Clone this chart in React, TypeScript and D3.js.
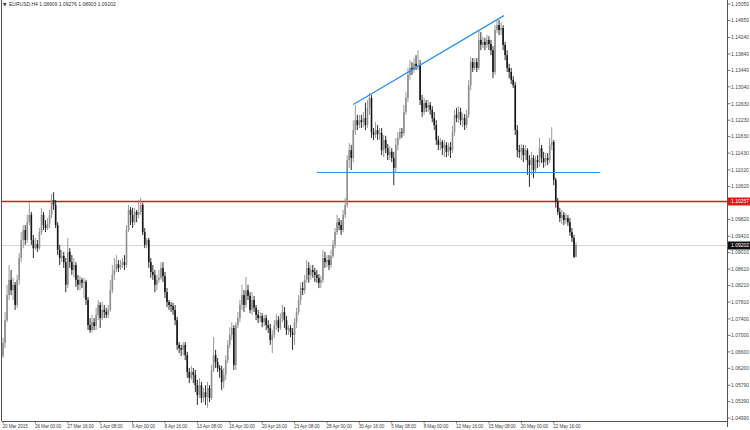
import React from 'react';
import * as d3 from 'd3';

const W = 750;
const H = 430;

const symbolTitle = 'EURUSD,H4';
const headerValues = ['1.08909', '1.09276', '1.08903', '1.09202'];

const firstOpen = 1.065;
const closes = [
  1.0682,1.0737,1.0798,1.0835,1.0810,1.0823,1.0774,1.0835,1.0888,1.0932,
  1.0956,1.0932,1.0975,1.0993,1.0932,1.0912,1.0922,1.0912,1.0951,1.0993,
  1.0968,1.0961,1.0971,1.0993,1.1029,1.1017,1.0968,1.0908,1.0888,1.0893,
  1.0878,1.0823,1.0903,1.0878,1.0859,1.0871,1.0835,1.0823,1.0835,1.0828,
  1.0830,1.0786,1.0725,1.0713,1.0732,1.0723,1.0750,1.0774,1.0742,1.0762,
  1.0757,1.0750,1.0762,1.0810,1.0847,1.0859,1.0873,1.0864,1.0871,1.0878,
  1.0871,1.0956,1.1005,1.0993,1.0975,1.1000,1.0993,1.1000,1.1017,1.0951,
  1.0920,1.0932,1.0878,1.0854,1.0847,1.0823,1.0835,1.0840,1.0864,1.0844,
  1.0805,1.0781,1.0774,1.0771,1.0762,1.0737,1.0677,1.0669,1.0665,1.0677,
  1.0652,1.0611,1.0597,1.0611,1.0604,1.0579,1.0555,1.0579,1.0548,1.0562,
  1.0550,1.0572,1.0548,1.0616,1.0652,1.0635,1.0621,1.0616,1.0587,1.0604,
  1.0640,1.0677,1.0701,1.0718,1.0628,1.0725,1.0742,1.0774,1.0798,1.0774,
  1.0810,1.0796,1.0762,1.0786,1.0767,1.0750,1.0742,1.0747,1.0732,1.0742,
  1.0725,1.0718,1.0689,1.0701,1.0725,1.0737,1.0718,1.0742,1.0757,1.0737,
  1.0713,1.0718,1.0708,1.0701,1.0732,1.0757,1.0786,1.0815,1.0810,1.0835,
  1.0864,1.0847,1.0859,1.0854,1.0847,1.0840,1.0828,1.0835,1.0888,1.0878,
  1.0883,1.0871,1.0893,1.0920,1.0951,1.0975,1.0968,1.0956,1.0993,1.1017,
  1.1126,1.1150,1.1131,1.1199,1.1223,1.1211,1.1223,1.1218,1.1228,1.1211,
  1.1253,1.1277,1.1194,1.1187,1.1199,1.1189,1.1192,1.1150,1.1175,1.1155,
  1.1138,1.1146,1.1131,1.1107,1.1163,1.1180,1.1194,1.1192,1.1243,1.1277,
  1.1333,1.1350,1.1345,1.1360,1.1355,1.1357,1.1272,1.1243,1.1265,1.1253,
  1.1260,1.1248,1.1228,1.1211,1.1175,1.1163,1.1170,1.1155,1.1163,1.1146,
  1.1158,1.1150,1.1194,1.1236,1.1228,1.1243,1.1223,1.1228,1.1211,1.1236,
  1.1308,1.1364,1.1350,1.1364,1.1350,1.1418,1.1406,1.1413,1.1406,1.1418,
  1.1408,1.1393,1.1340,1.1442,1.1454,1.1442,1.1447,1.1406,1.1381,1.1350,
  1.1340,1.1321,1.1308,1.1199,1.1150,1.1146,1.1155,1.1138,1.1150,1.1126,
  1.1114,1.1131,1.1102,1.1126,1.1121,1.1155,1.1131,1.1121,1.1131,1.1126,
  1.1163,1.1170,1.1078,1.1024,1.1000,1.0985,1.0993,1.0980,1.0985,1.0975,
  1.0951,1.0937,1.08909,1.09202,
];
const highs = [
  1.0694,1.0757,1.0823,1.0871,1.0859,1.0840,1.0830,1.0847,1.0900,1.0951,
  1.0968,1.0968,1.0993,1.1024,1.1000,1.0944,1.0937,1.0932,1.0961,1.1010,
  1.1000,1.0980,1.0985,1.1005,1.1044,1.1048,1.1029,1.0975,1.0920,1.0908,
  1.0903,1.0888,1.0937,1.0912,1.0895,1.0888,1.0878,1.0847,1.0845,1.0840,
  1.0840,1.0835,1.0793,1.0742,1.0750,1.0742,1.0767,1.0786,1.0781,1.0781,
  1.0774,1.0767,1.0774,1.0835,1.0871,1.0888,1.0895,1.0883,1.0883,1.0888,
  1.0895,1.0968,1.1017,1.1012,1.1010,1.1010,1.1005,1.1029,1.1034,1.1022,
  1.0961,1.0937,1.0937,1.0888,1.0871,1.0859,1.0847,1.0859,1.0878,1.0878,
  1.0854,1.0815,1.0786,1.0781,1.0779,1.0774,1.0745,1.0684,1.0677,1.0684,
  1.0684,1.0660,1.0621,1.0626,1.0621,1.0616,1.0592,1.0597,1.0587,1.0572,
  1.0579,1.0587,1.0579,1.0628,1.0696,1.0665,1.0645,1.0628,1.0626,1.0621,
  1.0652,1.0689,1.0720,1.0732,1.0725,1.0732,1.0757,1.0786,1.0823,1.0810,
  1.0842,1.0823,1.0805,1.0805,1.0796,1.0774,1.0762,1.0757,1.0754,1.0750,
  1.0750,1.0737,1.0728,1.0713,1.0737,1.0752,1.0747,1.0754,1.0774,1.0769,
  1.0747,1.0725,1.0725,1.0718,1.0742,1.0767,1.0798,1.0828,1.0830,1.0847,
  1.0883,1.0878,1.0871,1.0871,1.0864,1.0859,1.0849,1.0845,1.0908,1.0903,
  1.0895,1.0895,1.0908,1.0932,1.0961,1.0993,1.0985,1.0980,1.1005,1.1034,
  1.1138,1.1167,1.1163,1.1223,1.1260,1.1236,1.1236,1.1236,1.1243,1.1265,
  1.1272,1.1289,1.1284,1.1204,1.1218,1.1211,1.1204,1.1204,1.1187,1.1185,
  1.1165,1.1160,1.1155,1.1146,1.1180,1.1194,1.1204,1.1204,1.1260,1.1291,
  1.1350,1.1369,1.1364,1.1374,1.1381,1.1393,1.1369,1.1284,1.1277,1.1272,
  1.1272,1.1267,1.1257,1.1243,1.1223,1.1185,1.1180,1.1175,1.1175,1.1170,
  1.1168,1.1170,1.1209,1.1248,1.1253,1.1257,1.1253,1.1240,1.1238,1.1248,
  1.1321,1.1376,1.1374,1.1374,1.1374,1.1442,1.1437,1.1425,1.1423,1.1430,
  1.1427,1.1418,1.1403,1.1454,1.1466,1.1466,1.1461,1.1454,1.1413,1.1393,
  1.1360,1.1350,1.1330,1.1316,1.1211,1.1163,1.1165,1.1163,1.1163,1.1155,
  1.1138,1.1146,1.1138,1.1136,1.1138,1.1180,1.1163,1.1146,1.1143,1.1143,
  1.1180,1.1206,1.1175,1.1083,1.1034,1.1010,1.1005,1.1000,1.0997,1.0993,
  1.0985,1.0961,1.0944,1.09276,
];
const lows = [
  1.0645,1.0669,1.0732,1.0786,1.0798,1.0786,1.0762,1.0767,1.0823,1.0878,
  1.0912,1.0920,1.0925,1.0968,1.0920,1.0888,1.0908,1.0903,1.0908,1.0944,
  1.0956,1.0951,1.0956,1.0961,1.0985,1.1005,1.0961,1.0895,1.0871,1.0878,
  1.0864,1.0805,1.0815,1.0864,1.0847,1.0840,1.0818,1.0810,1.0810,1.0815,
  1.0791,1.0774,1.0713,1.0706,1.0708,1.0713,1.0713,1.0737,1.0718,1.0737,
  1.0742,1.0742,1.0742,1.0757,1.0803,1.0835,1.0854,1.0854,1.0859,1.0864,
  1.0859,1.0864,1.0951,1.0968,1.0961,1.0968,1.0975,1.0985,1.0993,1.0944,
  1.0912,1.0912,1.0864,1.0840,1.0835,1.0805,1.0810,1.0828,1.0835,1.0830,
  1.0791,1.0769,1.0762,1.0757,1.0750,1.0725,1.0665,1.0657,1.0650,1.0652,
  1.0640,1.0597,1.0584,1.0592,1.0584,1.0562,1.0531,1.0548,1.0536,1.0538,
  1.0531,1.0524,1.0538,1.0543,1.0611,1.0621,1.0611,1.0597,1.0567,1.0572,
  1.0592,1.0633,1.0669,1.0689,1.0616,1.0616,1.0718,1.0732,1.0762,1.0757,
  1.0767,1.0786,1.0754,1.0750,1.0757,1.0737,1.0730,1.0732,1.0720,1.0723,
  1.0713,1.0706,1.0677,1.0657,1.0694,1.0713,1.0708,1.0713,1.0732,1.0718,
  1.0701,1.0701,1.0696,1.0665,1.0677,1.0718,1.0750,1.0774,1.0798,1.0801,
  1.0828,1.0828,1.0835,1.0840,1.0830,1.0828,1.0815,1.0815,1.0828,1.0864,
  1.0866,1.0859,1.0864,1.0888,1.0912,1.0944,1.0956,1.0944,1.0951,1.0985,
  1.1010,1.1107,1.1102,1.1121,1.1187,1.1199,1.1204,1.1204,1.1206,1.1199,
  1.1204,1.1236,1.1180,1.1175,1.1180,1.1175,1.1175,1.1138,1.1133,1.1143,
  1.1126,1.1126,1.1121,1.1065,1.1097,1.1150,1.1175,1.1180,1.1185,1.1236,
  1.1267,1.1321,1.1333,1.1338,1.1345,1.1345,1.1260,1.1231,1.1236,1.1243,
  1.1243,1.1236,1.1218,1.1199,1.1163,1.1150,1.1150,1.1138,1.1133,1.1133,
  1.1136,1.1131,1.1143,1.1185,1.1218,1.1216,1.1211,1.1206,1.1199,1.1204,
  1.1228,1.1296,1.1340,1.1345,1.1340,1.1345,1.1393,1.1398,1.1393,1.1398,
  1.1393,1.1381,1.1325,1.1333,1.1435,1.1430,1.1430,1.1393,1.1369,1.1340,
  1.1325,1.1311,1.1301,1.1187,1.1133,1.1131,1.1126,1.1121,1.1126,1.1090,
  1.1061,1.1090,1.1082,1.1095,1.1107,1.1109,1.1119,1.1107,1.1112,1.1114,
  1.1119,1.1150,1.1065,1.1010,1.0993,1.0975,1.0971,1.0968,1.0971,1.0966,
  1.0942,1.0927,1.0888,1.08903,
];

const timeLabels = [
  '20 Mar 2015', '26 Mar 00:00', '27 Mar 16:00', '1 Apr 08:00', '6 Apr 00:00',
  '8 Apr 16:00', '13 Apr 08:00', '16 Apr 00:00', '20 Apr 16:00', '23 Apr 08:00',
  '28 Apr 00:00', '30 Apr 16:00', '5 May 08:00', '8 May 00:00', '12 May 16:00',
  '15 May 08:00', '20 May 00:00', '22 May 16:00',
];
const barsPerLabel = 16;

const priceTicks = [
  '1.15050', '1.14650', '1.14240', '1.13840', '1.13440', '1.13040', '1.12630',
  '1.12230', '1.11830', '1.11430', '1.11020', '1.10620', '1.09820', '1.09410',
  '1.09010', '1.08610', '1.08210', '1.07810', '1.07400', '1.07000', '1.06600',
  '1.06200', '1.05790', '1.05390', '1.04990',
];

const resistanceLevel = 1.10257;
const bidLevel = 1.09202;
const necklineLevel = 1.10970;
const necklineBars = [155, 295];
const trendBars = [173, 247.4];
const trendPrices = [1.1261, 1.1477];

const priceDomain = [1.0492, 1.1515];

export default function App() {
  const plotLeft = 2;
  const plotRight = 727.5;
  const plotBottom = 421;
  const n = closes.length;
  const x = d3.scaleLinear().domain([0, n - 1]).range([3, 576]);
  const y = d3.scaleLinear().domain(priceDomain).range([plotBottom, 0]);
  const crisp = (v: number) => Math.round(v) + 0.5;

  const candles = closes.map((c, i) => {
    const o = i === 0 ? firstOpen : closes[i - 1];
    const hi = Math.max(highs[i], o, c);
    const lo = Math.min(lows[i], o, c);
    return { i, o, c, hi, lo, up: c >= o };
  });

  const font = "'Liberation Sans', Arial, sans-serif";
  const tline = d3.line<[number, number]>().x(d => x(d[0])).y(d => y(d[1]));
  const yRes = crisp(y(resistanceLevel));
  const yBid = crisp(y(bidLevel));
  const yNeck = crisp(y(necklineLevel));

  return (
    <svg width={W} height={H} style={{ position: 'fixed', left: 0, top: 0, background: '#fff' }}>
      <rect x={0} y={0} width={W} height={H} fill="#fff" />
      {/* frame */}
      <line x1={1.5} x2={1.5} y1={0} y2={plotBottom} stroke="#555" strokeWidth={1} />
      <line x1={plotLeft} x2={plotRight} y1={plotBottom + 0.5} y2={plotBottom + 0.5} stroke="#555" strokeWidth={1} />
      <line x1={plotRight} x2={plotRight} y1={0} y2={plotBottom + 6} stroke="#555" strokeWidth={1} />

      {/* bid line */}
      <line x1={plotLeft} x2={plotRight} y1={yBid} y2={yBid} stroke="#d4d4d4" strokeWidth={1} />
      {/* resistance */}
      <line x1={plotLeft} x2={plotRight} y1={yRes} y2={yRes} stroke="#e81212" strokeWidth={1.6} />

      {/* candles */}
      {candles.map(d => {
        const col = d.up ? '#8e8e8e' : '#161616';
        const cx = x(d.i);
        const top = y(Math.max(d.o, d.c));
        const bot = y(Math.min(d.o, d.c));
        return (
          <g key={d.i}>
            <line x1={cx} x2={cx} y1={y(d.hi)} y2={y(d.lo)} stroke={col} strokeWidth={0.9} />
            <rect x={cx - 0.8} width={1.6} y={top} height={Math.max(0.8, bot - top)} fill={col} />
          </g>
        );
      })}

      {/* neckline */}
      <line x1={x(necklineBars[0])} x2={x(necklineBars[1])} y1={yNeck} y2={yNeck} stroke="#2b8ee6" strokeWidth={1.2} />
      {/* trend line */}
      <path d={tline([[trendBars[0], trendPrices[0]], [trendBars[1], trendPrices[1]]]) || ''} stroke="#2b8ee6" strokeWidth={1.2} fill="none" />

      {/* title */}
      <text x={3} y={6} fontSize={4.5} fill="#333" fontFamily="'DejaVu Sans', sans-serif">▼</text>
      <text x={9} y={6} fontSize={5} fill="#333" fontFamily={font}>
        {symbolTitle + '  ' + headerValues.join(' ')}
      </text>

      {/* price axis */}
      {priceTicks.map(t => {
        const yy = y(parseFloat(t));
        return (
          <g key={t}>
            <line x1={plotRight} x2={plotRight + 3} y1={yy} y2={yy} stroke="#555" strokeWidth={0.8} />
            <text x={731} y={yy + 1.8} fontSize={5} fill="#444" fontFamily={font}>{t}</text>
          </g>
        );
      })}
      <rect x={plotRight + 0.5} y={yRes - 4} width={22} height={8} fill="#e01818" />
      <text x={731} y={yRes + 1.8} fontSize={5} fill="#fff" fontFamily={font}>{resistanceLevel.toFixed(5)}</text>
      <rect x={plotRight + 0.5} y={yBid - 4} width={22} height={8} fill="#111" />
      <text x={731} y={yBid + 1.8} fontSize={5} fill="#fff" fontFamily={font}>{bidLevel.toFixed(5)}</text>

      {/* time axis */}
      {timeLabels.map((t, k) => {
        const xx = x(k * barsPerLabel);
        return (
          <g key={t}>
            <line x1={xx} x2={xx} y1={plotBottom} y2={plotBottom + 2.5} stroke="#555" strokeWidth={0.8} />
            <text x={xx - 0.5} y={428} fontSize={4.7} letterSpacing={-0.1} fill="#444" fontFamily={font}>{t}</text>
          </g>
        );
      })}
    </svg>
  );
}
